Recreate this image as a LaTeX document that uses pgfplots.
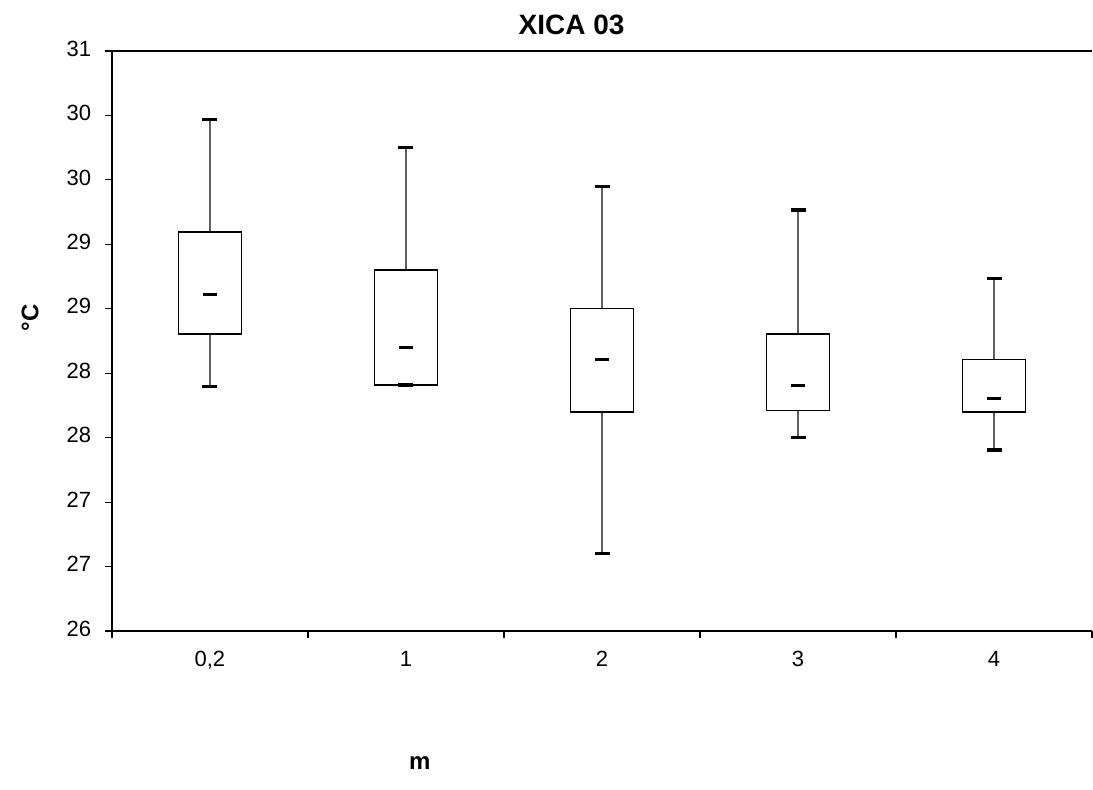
\documentclass[border=0pt]{standalone}
\usepackage{fontspec}
\setmainfont{Liberation Sans}
\usepackage{pgfplots}
\pgfplotsset{compat=1.18}
\usetikzlibrary{calc}
\definecolor{Whisk}{HTML}{606060}

% one box: lower quartile, upper quartile at x +- 0.16
\pgfplotsset{
  boxstyle/.style={draw=black, fill=white, line width=0.75pt, mark=none},
  whiskstyle/.style={Whisk, line width=0.65pt, mark=none},
  capstyle/.style={only marks, mark=-, mark size=3.75pt, mark options={black, line width=1.6pt, solid}},
  medstyle/.style={only marks, mark=-, mark size=3.5pt, mark options={black, line width=1.5pt, solid}},
}

\begin{document}
\begin{tikzpicture}
\begin{axis}[
  scale only axis,
  width=490pt,
  height=290pt,
  xmin=0.5, xmax=5.5,
  ymin=26, ymax=31,
  axis lines=left,
  axis line style={-, line width=1pt},
  xtick={0.5,1.5,2.5,3.5,4.5,5.5},
  xticklabels={{0,2},1,2,3,4,{}},
  xticklabel style={xshift=48.95pt, yshift=-1.5pt, font=\fontsize{11}{13}\selectfont},
  ytick={26,26.5556,27.1111,27.6667,28.2222,28.7778,29.3333,29.8889,30.4444,31},
  yticklabels={26,27,27,28,28,29,29,30,30,31},
  yticklabel style={font=\fontsize{11}{13}\selectfont, xshift=-3.5pt},
  typeset ticklabels with strut,
  tick align=outside,
  major tick length=3.4pt,
  tick style={black, line width=0.6pt},
  title={\bfseries XICA 03},
  title style={font=\fontsize{14}{16}\selectfont, at={(0.469,1)}, anchor=south, yshift=-1.5pt},
  xlabel={\bfseries m},
  xlabel style={font=\fontsize{12}{14}\selectfont, at={(rel axis cs:0.314,0)}, anchor=center, yshift=-66pt},
  ylabel={\bfseries °C},
  ylabel style={font=\fontsize{12}{14}\selectfont, at={(rel axis cs:0,0.54)}, anchor=center, yshift=41pt},
  clip=false,
]
% whiskers
\addplot[whiskstyle] coordinates {(1,28.11) (1,28.56)};
\addplot[whiskstyle] coordinates {(1,29.44) (1,30.41)};
\addplot[whiskstyle] coordinates {(2,29.11) (2,30.17)};
\addplot[whiskstyle] coordinates {(3,26.67) (3,27.89)};
\addplot[whiskstyle] coordinates {(3,28.78) (3,29.83)};
\addplot[whiskstyle] coordinates {(4,27.67) (4,27.90)};
\addplot[whiskstyle] coordinates {(4,28.56) (4,29.63)};
\addplot[whiskstyle] coordinates {(5,27.56) (5,27.89)};
\addplot[whiskstyle] coordinates {(5,28.34) (5,29.04)};
% boxes (Q1 to Q3)
\addplot[boxstyle] coordinates {(0.84,28.56) (1.16,28.56) (1.16,29.44) (0.84,29.44)} -- cycle;
\addplot[boxstyle] coordinates {(1.84,28.12) (2.16,28.12) (2.16,29.11) (1.84,29.11)} -- cycle;
\addplot[boxstyle] coordinates {(2.84,27.89) (3.16,27.89) (3.16,28.78) (2.84,28.78)} -- cycle;
\addplot[boxstyle] coordinates {(3.84,27.90) (4.16,27.90) (4.16,28.56) (3.84,28.56)} -- cycle;
\addplot[boxstyle] coordinates {(4.84,27.89) (5.16,27.89) (5.16,28.34) (4.84,28.34)} -- cycle;
% whisker caps (min and max)
\addplot[capstyle] coordinates {
  (1,28.11) (1,30.41)
  (2,28.12) (2,30.17)
  (3,26.67) (3,29.83)
  (4,27.67) (4,29.63)
  (5,27.56) (5,29.04)
};
% medians
\addplot[medstyle] coordinates {(1,28.90) (2,28.44) (3,28.34) (4,28.12) (5,28.00)};
\draw[line width=1pt] (rel axis cs:0,1) -- (rel axis cs:1,1);
\coordinate (SW) at (rel axis cs:0,0);
\end{axis}
\pgfresetboundingbox
\path[use as bounding box] ($(SW)+(-56pt,-79.5pt)$) rectangle ($(SW)+(490.5pt,315.5pt)$);
\end{tikzpicture}
\end{document}
